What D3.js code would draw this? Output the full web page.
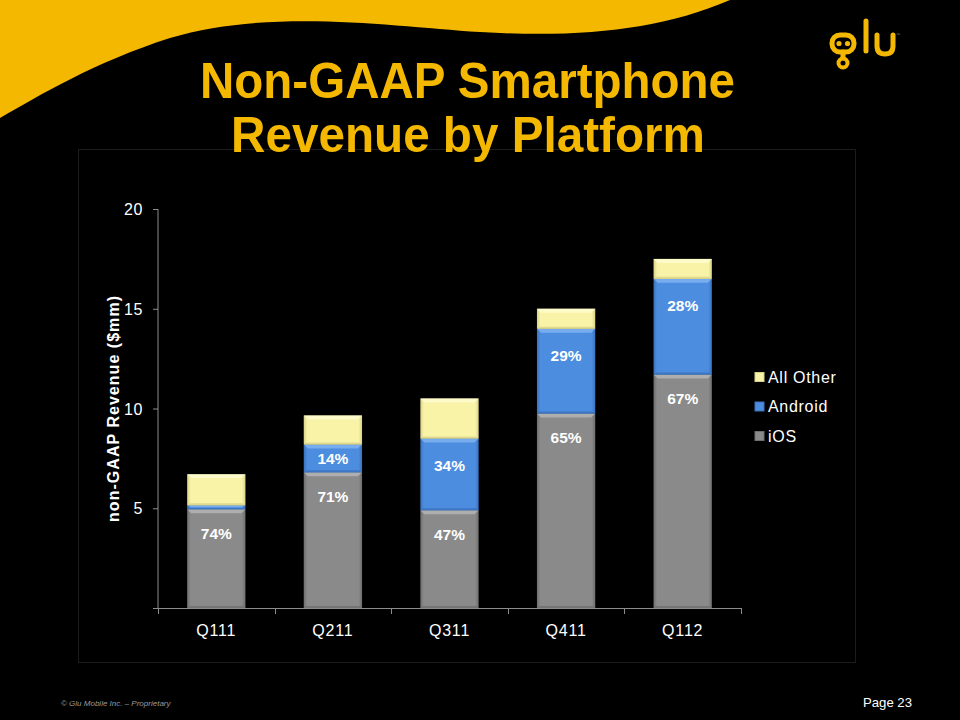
<!DOCTYPE html>
<html>
<head>
<meta charset="utf-8">
<script src="https://cdn.jsdelivr.net/npm/d3@7/dist/d3.min.js"></script>
<style>
  html, body { margin: 0; padding: 0; background: #000; }
  svg { display: block; }
</style>
</head>
<body>
<svg id="chart" width="960" height="720"></svg>
<script>
// ---- data ----
const categories = ["Q111", "Q211", "Q311", "Q411", "Q112"];
const iosValues = [4.95, 6.8, 4.9, 9.75, 11.7];
const androidValues = [0.2, 1.4, 3.6, 4.25, 4.8];
const otherValues = [1.55, 1.45, 2.0, 1.0, 1.0];
const iosLabels = ["74%", "71%", "47%", "65%", "67%"];
const androidLabels = ["", "14%", "34%", "29%", "28%"];
const seriesNames = ["iOS", "Android", "All Other"];
const yTicks = [0, 5, 10, 15, 20];
const titleLines = ["Non-GAAP Smartphone", "Revenue by Platform"];

const svg = d3.select("#chart");
const W = 960, H = 720;
const gold = "#f4b800";

// background
svg.append("rect").attr("width", W).attr("height", H).attr("fill", "#000");

// yellow swoosh
svg.append("path")
  .attr("d", "M0,0 L730,0 C660,30 580,38 480,32 C390,26 270,8 170,38 C95,62 40,95 0,118 Z")
  .attr("fill", gold);

// logo
const logo = svg.append("g").attr("fill", "none").attr("stroke", gold)
  .attr("stroke-linecap", "round").attr("stroke-width", 5);
logo.append("rect").attr("x", 832).attr("y", 35).attr("width", 22).attr("height", 17)
  .attr("rx", 8).attr("fill", "#000");
logo.append("line").attr("x1", 843).attr("y1", 52).attr("x2", 843).attr("y2", 58);
logo.append("circle").attr("cx", 843).attr("cy", 63).attr("r", 4.5).attr("stroke-width", 4);
logo.append("line").attr("x1", 866).attr("y1", 21).attr("x2", 866).attr("y2", 51);
logo.append("path").attr("d", "M877,35 L877,46 Q877,54 885,54 Q893,54 893,46 L893,35");
logo.append("circle").attr("cx", 839).attr("cy", 43.5).attr("r", 2.6).attr("fill", gold).attr("stroke", "none");
logo.append("circle").attr("cx", 847.5).attr("cy", 43.5).attr("r", 2.6).attr("fill", gold).attr("stroke", "none");
svg.append("text").attr("x", 896).attr("y", 36).attr("font-size", 4).attr("fill", "#888")
  .attr("font-family", "Liberation Sans, Arial, sans-serif").text("™");

const font = "'Liberation Sans', Arial, sans-serif";

// faint chart frame
svg.append("rect").attr("x", 78.5).attr("y", 149.5).attr("width", 777).attr("height", 513)
  .attr("fill", "none").attr("stroke", "#1c1c1c").attr("stroke-width", 1);

// title
svg.append("text").attr("x", 200).attr("y", 98)
  .attr("font-family", font).attr("font-weight", "bold").attr("font-size", 50)
  .attr("textLength", 535).attr("lengthAdjust", "spacingAndGlyphs")
  .attr("fill", gold).text(titleLines[0]);
svg.append("text").attr("x", 231).attr("y", 152)
  .attr("font-family", font).attr("font-weight", "bold").attr("font-size", 50)
  .attr("textLength", 474).attr("lengthAdjust", "spacingAndGlyphs")
  .attr("fill", gold).text(titleLines[1]);

// scales
const x = d3.scaleBand().domain(categories).range([158, 741]).paddingInner(0.5).paddingOuter(0.25);
const y = d3.scaleLinear().domain([0, 20]).range([608, 209]);

// gradients
const defs = svg.append("defs");
const colors = {
  "iOS": { base: "#8a8a8a", edge: "#6e6e6e", top: "#b4b4b4" },
  "Android": { base: "#4c8de0", edge: "#3a72bd", top: "#7fb3f0" },
  "All Other": { base: "#f8f3a6", edge: "#d9d38a", top: "#fffbd0" }
};
seriesNames.forEach((s, i) => {
  const g = defs.append("linearGradient").attr("id", "grad" + i)
    .attr("x1", "0").attr("x2", "1").attr("y1", "0").attr("y2", "0");
  g.append("stop").attr("offset", "0").attr("stop-color", colors[s].edge);
  g.append("stop").attr("offset", "0.06").attr("stop-color", colors[s].base);
  g.append("stop").attr("offset", "0.94").attr("stop-color", colors[s].base);
  g.append("stop").attr("offset", "1").attr("stop-color", colors[s].edge);
});

// stacked data
const rows = categories.map((c, i) => ({ cat: c, "iOS": iosValues[i], "Android": androidValues[i], "All Other": otherValues[i] }));
const stacked = d3.stack().keys(seriesNames)(rows);

const bars = svg.append("g");
stacked.forEach((layer, li) => {
  const s = seriesNames[li];
  layer.forEach((d, i) => {
    const x0 = x(categories[i]), w = x.bandwidth();
    const yTop = y(d[1]), yBot = y(d[0]);
    const h = yBot - yTop;
    bars.append("rect").attr("x", x0).attr("y", yTop).attr("width", w).attr("height", h)
      .attr("fill", `url(#grad${li})`);
    const bv = Math.min(4, h / 2);
    bars.append("path")
      .attr("d", `M${x0},${yTop} L${x0 + w},${yTop} L${x0 + w - 4},${yTop + bv} L${x0 + 4},${yTop + bv} Z`)
      .attr("fill", colors[s].top).attr("opacity", 0.85);
    const bs = Math.min(2, h / 3);
    bars.append("path")
      .attr("d", `M${x0},${yBot} L${x0 + w},${yBot} L${x0 + w - 3},${yBot - bs} L${x0 + 3},${yBot - bs} Z`)
      .attr("fill", colors[s].edge).attr("opacity", 0.8);
  });
});

// axes
const axisColor = "#8c8c8c";
const yAxis = svg.append("g").attr("transform", "translate(158,0)")
  .call(d3.axisLeft(y).tickValues(yTicks).tickSize(5).tickFormat(d => d === 0 ? "" : d));
yAxis.select(".domain").attr("stroke", axisColor).attr("d", "M0,608.5V209");
yAxis.selectAll(".tick line").attr("stroke", axisColor);
yAxis.selectAll(".tick text").attr("fill", "#fff").attr("font-family", font)
  .attr("font-size", 16).attr("letter-spacing", 0.6).attr("x", -15).attr("dy", "0.35em");

const xAxis = svg.append("g").attr("transform", "translate(0,608)")
  .call(d3.axisBottom(x).tickSize(0).tickPadding(17));
xAxis.select(".domain").attr("stroke", axisColor).attr("d", "M153,0.5H741");
xAxis.selectAll(".tick text").attr("fill", "#fff").attr("font-family", font)
  .attr("font-size", 16).attr("letter-spacing", 0.8);
const step = x.step();
const bounds = d3.range(categories.length + 1).map(i => 158 + i * step);
xAxis.selectAll(".bound").data(bounds).enter().append("line")
  .attr("x1", d => Math.round(d) + 0.5).attr("x2", d => Math.round(d) + 0.5)
  .attr("y1", 0).attr("y2", 6).attr("stroke", axisColor);

// y axis title
svg.append("text").attr("transform", "translate(119,409) rotate(-90)")
  .attr("text-anchor", "middle").attr("font-family", font).attr("font-weight", "bold")
  .attr("font-size", 16).attr("textLength", 226).attr("lengthAdjust", "spacing")
  .attr("fill", "#fff").text("non-GAAP Revenue ($mm)");

// percentage labels
const labels = svg.append("g").attr("font-family", font).attr("font-weight", "bold")
  .attr("font-size", 15.5).attr("fill", "#fff").attr("text-anchor", "middle");
categories.forEach((c, i) => {
  const cx = x(c) + x.bandwidth() / 2;
  const iosTop = y(iosValues[i]);
  labels.append("text").attr("x", cx).attr("y", iosTop + 24).attr("dy", "0.35em").text(iosLabels[i]);
  if (androidLabels[i]) {
    const aTop = y(iosValues[i] + androidValues[i]);
    const center = (aTop + iosTop) / 2;
    labels.append("text").attr("x", cx).attr("y", Math.min(aTop + 27, center)).attr("dy", "0.35em").text(androidLabels[i]);
  }
});

// legend
const legendItems = ["All Other", "Android", "iOS"];
const lg = svg.append("g");
legendItems.forEach((s, i) => {
  const ly = 377 + i * 29.5;
  lg.append("rect").attr("x", 755).attr("y", ly - 4.5).attr("width", 9).attr("height", 9)
    .attr("fill", colors[s].base).attr("stroke", colors[s].edge).attr("stroke-width", 1);
  lg.append("text").attr("x", 768).attr("y", ly).attr("dy", "0.35em")
    .attr("font-family", font).attr("font-size", 16).attr("letter-spacing", 0.7)
    .attr("fill", "#fff").text(s);
});

// footer
svg.append("text").attr("x", 61).attr("y", 706).attr("font-family", font).attr("font-style", "italic")
  .attr("font-size", 8).attr("fill", "#9a9a9a").text("© Glu Mobile Inc. – Proprietary");
svg.append("text").attr("x", 863).attr("y", 707).attr("font-family", font)
  .attr("font-size", 13).attr("textLength", 49).attr("lengthAdjust", "spacingAndGlyphs")
  .attr("fill", "#fff").text("Page 23");
</script>
</body>
</html>
